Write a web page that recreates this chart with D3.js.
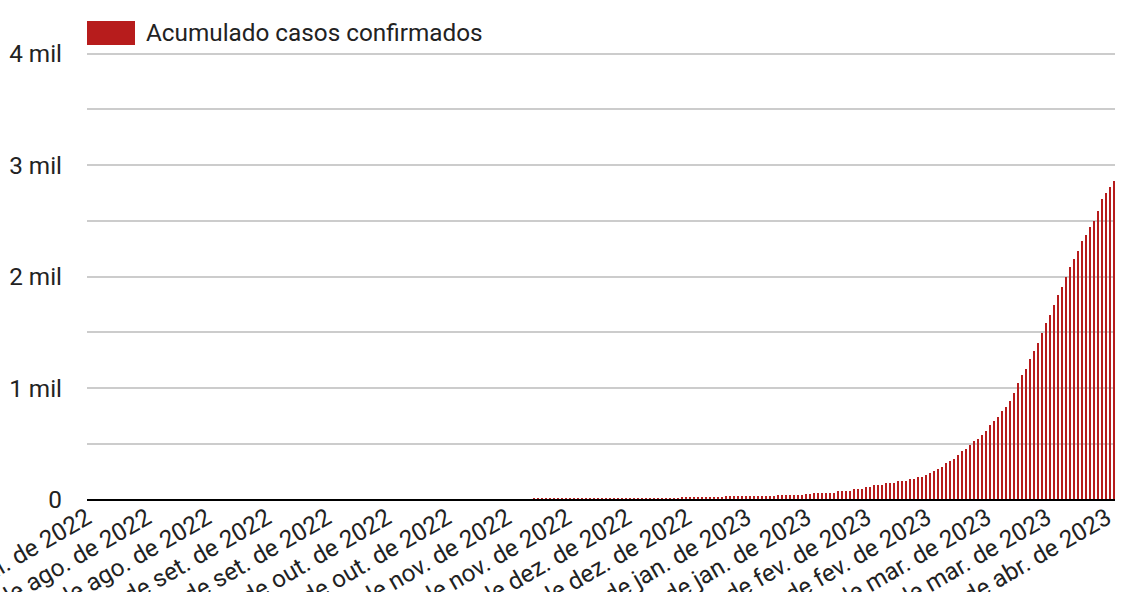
<!DOCTYPE html>
<html>
<head>
<meta charset="utf-8">
<script src="https://cdn.jsdelivr.net/npm/d3@7"></script>
<style>
  html, body { margin: 0; padding: 0; background: #fff; }
  svg { display: block; font-family: Roboto, "Noto Sans", sans-serif; }
</style>
</head>
<body>
<svg id="chart" width="1122" height="592"></svg>
<script>
// ---- data ----
const seriesName = "Acumulado casos confirmados";
const startDate = "2022-07-31";
const dayCount = 257;
const monthNames = ["jan.", "fev.", "mar.", "abr.", "mai.", "jun.", "jul.", "ago.", "set.", "out.", "nov.", "dez."];
const yTicks = [0, 1000, 2000, 3000, 4000];
const yTickLabels = ["0", "1 mil", "2 mil", "3 mil", "4 mil"];
const yGrid = [500, 1000, 1500, 2000, 2500, 3000, 3500, 4000];
const labelEvery = 15;
const values = [
  0,0,0,0,0,0,0,0,0,0, 0,0,0,0,0,0,0,0,0,0,
  0,0,0,0,0,0,0,0,0,0, 0,0,0,0,0,0,0,0,0,0,
  0,0,0,0,0,0,0,0,0,0, 0,0,0,0,0,0,0,0,0,0,
  0,0,0,0,0,0,0,0,0,0, 0,0,0,0,0,0,0,0,0,0,
  0,0,0,0,0,0,0,0,0,0, 0,0,0,0,0,0,0,0,0,0,
  0,0,0,0,0,0,0,0,0,0, 0,
  15,15,15,15,15,15,15,15,15,15, 15,15,15,15,15,15,15,15,15,15,
  15,15,15,15,15,15,15,15,15,15, 15,15,15,15,15,15,15,
  24,24,24,24,24,24,24,24,24,24, 24,
  33,33,33,33,33,33,33,33,33,33, 33,33,33,
  42,42,42,42,42,42,42,
  51,51,
  60,60,60,60,60,60,
  78,78,78,78,
  96,96,96,
  114,114,
  132,132,132,
  150,150,150,
  168,168,168,
  185,185,
  203,203,
  221,239,257,275,293,329,347,365,401,437,
  454,490,526,544,580,616,670,705,741,795,
  831,884,956,1046,1117,1171,1261,1332,1404,1494,
  1583,1655,1744,1834,1906,1995,2085,2157,2228,2318,
  2372,2443,2497,2587,2695,2748,2802,2856
];

// ---- build ----
const parse = d3.timeParse("%Y-%m-%d");
const start = parse(startDate);
const dates = d3.range(dayCount).map(i => d3.timeDay.offset(start, i));
const fmt = d => `${d.getDate()} de ${monthNames[d.getMonth()]} de ${d.getFullYear()}`;

const svg = d3.select("#chart");
const barColor = "#b71c1c";
const fontSize = 24.3;

const x = d3.scaleBand()
  .domain(d3.range(values.length))
  .range([88, 1116])
  .paddingInner(0.5)
  .paddingOuter(0.25);

const y = d3.scaleLinear().domain([0, 4000]).range([499.5, 53.5]);

// gridlines
svg.append("g").selectAll("line").data(yGrid).join("line")
  .attr("x1", 87).attr("x2", 1115)
  .attr("y1", d => Math.round(y(d))).attr("y2", d => Math.round(y(d)))
  .attr("stroke", "#cccccc").attr("stroke-width", 2)
  .attr("shape-rendering", "crispEdges");

// bars
svg.append("g").selectAll("rect").data(values).join("rect")
  .attr("x", (d, i) => x(i))
  .attr("width", x.bandwidth())
  .attr("y", d => y(d))
  .attr("height", d => Math.max(0, y(0) - y(d)))
  .attr("fill", barColor)
  .attr("shape-rendering", "crispEdges");

// baseline
svg.append("line")
  .attr("x1", 87).attr("x2", 1115)
  .attr("y1", 500).attr("y2", 500)
  .attr("stroke", "#000").attr("stroke-width", 2)
  .attr("shape-rendering", "crispEdges");

// y labels
svg.append("g").selectAll("text").data(yTicks).join("text")
  .attr("x", 62)
  .attr("y", d => y(d))
  .attr("dy", "0.36em")
  .attr("text-anchor", "end")
  .attr("font-size", fontSize)
  .attr("fill", "#222")
  .text((d, i) => yTickLabels[i]);

// x labels
const labelIdx = d3.range(0, values.length, labelEvery);
svg.append("g").selectAll("text").data(labelIdx).join("text")
  .attr("transform", i => `translate(${x(i) + x.bandwidth() / 2 + 3},${522}) rotate(-30)`)
  .attr("text-anchor", "end")
  .attr("font-size", fontSize)
  .attr("fill", "#222")
  .text(i => fmt(dates[i]));

// legend
svg.append("rect")
  .attr("x", 87).attr("y", 21).attr("width", 48).attr("height", 24)
  .attr("fill", barColor);
svg.append("text")
  .attr("x", 146).attr("y", 41)
  .attr("font-size", fontSize)
  .attr("fill", "#222")
  .text(seriesName);
</script>
</body>
</html>
